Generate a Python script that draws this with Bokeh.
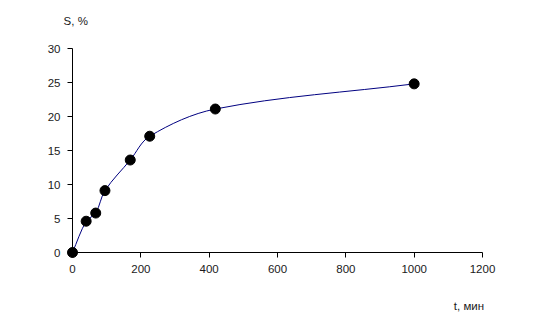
import math
from bokeh.plotting import figure
from bokeh.models import Range1d, Label, FixedTicker, LinearAxis
from bokeh.embed import file_html
from bokeh.resources import INLINE

# data
t_min = [0, 40, 68, 95, 169, 226, 418, 1000]
s_pct = [0, 4.6, 5.8, 9.1, 13.6, 17.1, 21.1, 24.8]
x_ticks = [0, 200, 400, 600, 800, 1000, 1200]
y_ticks = [0, 5, 10, 15, 20, 25, 30]

FONT = "Liberation Sans"
FS = "11.5px"
TXT = "#1a1a1a"

W, H = 537, 322
# frame covers whole canvas; axes drawn at data 0 via fixed_location
px_per_x = 410.0 / 1200
px_per_y = 204.0 / 30
x_lo = -72 / px_per_x
x_hi = (W - 72) / px_per_x
y_hi = 252 / px_per_y
y_lo = -(H - 252) / px_per_y

p = figure(width=W, height=H, output_backend="svg", toolbar_location=None,
           x_range=Range1d(x_lo, x_hi), y_range=Range1d(y_lo, y_hi),
           x_axis_location=None, y_axis_location=None,
           min_border=0, min_border_left=0, min_border_right=0,
           min_border_top=0, min_border_bottom=0)
p.outline_line_color = None
p.xgrid.visible = False
p.ygrid.visible = False
p.background_fill_color = "white"
p.border_fill_color = "white"

xa = LinearAxis(fixed_location=0, bounds=(0, 1200), ticker=FixedTicker(ticks=x_ticks))
ya = LinearAxis(fixed_location=0, bounds=(0, 30), ticker=FixedTicker(ticks=y_ticks))
for ax in (xa, ya):
    ax.minor_tick_line_color = None
    ax.major_tick_out = 5
    ax.major_tick_in = 0
    ax.axis_line_color = "black"
    ax.major_tick_line_color = "black"
    ax.major_label_text_font = FONT
    ax.major_label_text_font_size = FS
    ax.major_label_text_color = TXT
    ax.major_label_standoff = 7
p.add_layout(xa, "below")
p.add_layout(ya, "left")

# smooth curve: cubic bezier segments with tangents scaled by chord length (screen aspect)
n = len(t_min)
px = [t * px_per_x for t in t_min]
py = [s * px_per_y for s in s_pct]
tang = []
for i in range(n):
    a = max(i - 1, 0)
    b = min(i + 1, n - 1)
    dx, dy = px[b] - px[a], py[b] - py[a]
    L = math.hypot(dx, dy)
    tang.append((dx / L, dy / L))
x0, y0, x1, y1, cx0, cy0, cx1, cy1 = [], [], [], [], [], [], [], []
for i in range(n - 1):
    L = math.hypot(px[i + 1] - px[i], py[i + 1] - py[i]) / 3.0
    x0.append(t_min[i]); y0.append(s_pct[i])
    x1.append(t_min[i + 1]); y1.append(s_pct[i + 1])
    cx0.append((px[i] + tang[i][0] * L) / px_per_x)
    cy0.append((py[i] + tang[i][1] * L) / px_per_y)
    cx1.append((px[i + 1] - tang[i + 1][0] * L) / px_per_x)
    cy1.append((py[i + 1] - tang[i + 1][1] * L) / px_per_y)
p.bezier(x0=x0, y0=y0, x1=x1, y1=y1, cx0=cx0, cy0=cy0, cx1=cx1, cy1=cy1,
         line_color="#000080", line_width=1)

p.scatter(t_min, s_pct, size=10, marker="circle", fill_color="black", line_color="black")

p.add_layout(Label(x=-26, y=34.1, text="S, %", text_font=FONT, text_font_size=FS,
                   text_color=TXT, text_baseline="middle", text_align="left"))
p.add_layout(Label(x=1116, y=-7.8, text="t, мин", text_font=FONT, text_font_size=FS,
                   text_color=TXT, text_baseline="middle", text_align="left"))

open("out.html", "w").write(file_html(p, INLINE))
